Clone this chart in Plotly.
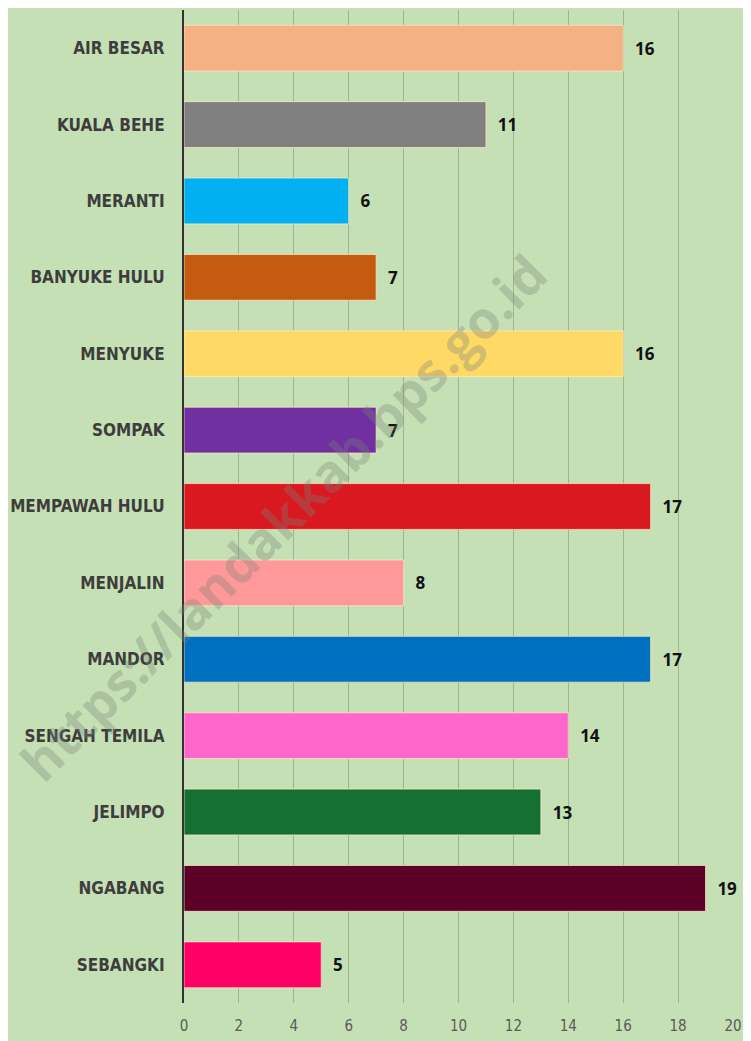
import plotly.graph_objects as go

# top to bottom as in the picture
kecamatan = ["AIR BESAR", "KUALA BEHE", "MERANTI", "BANYUKE HULU", "MENYUKE", "SOMPAK",
             "MEMPAWAH HULU", "MENJALIN", "MANDOR", "SENGAH TEMILA", "JELIMPO",
             "NGABANG", "SEBANGKI"]
jumlah = [16, 11, 6, 7, 16, 7, 17, 8, 17, 14, 13, 19, 5]
warna = ["#F4B183", "#808080", "#00B0F0", "#C55A11", "#FFD966", "#7030A0",
         "#D9191F", "#FF9999", "#0070C0", "#FF66CC", "#157133", "#5C0028", "#FF0066"]
x_ticks = list(range(0, 21, 2))

BG = "#C5E0B4"
LABEL_FONT = "DejaVu Sans Condensed, sans-serif"

fig = go.Figure(go.Bar(
    x=jumlah, y=kecamatan, orientation="h",
    marker=dict(color=warna, line=dict(color="rgba(255,235,200,0.7)", width=1)),
    text=jumlah, texttemplate="\u00a0\u00a0%{text}", textposition="outside",
    cliponaxis=False, constraintext="none",
    textfont=dict(family="Open Sans", size=17, color="#111111", weight="bold"),
))

# the page adds an 8px body margin, so the figure is a bit smaller than the window
fig.update_layout(
    width=743, height=1033,
    paper_bgcolor=BG, plot_bgcolor=BG,
    margin=dict(l=176, r=18, t=2, b=38),
    bargap=0.4,
    showlegend=False,
    xaxis=dict(range=[0, 20], tickvals=x_ticks, showgrid=True,
               gridcolor="rgba(110,130,100,0.45)", gridwidth=1,
               zeroline=False, showline=False, automargin=False,
               ticks="outside", ticklen=0, ticklabelstandoff=9,
               tickfont=dict(family=LABEL_FONT, size=15, color="#5a5a5a")),
    yaxis=dict(categoryorder="array", categoryarray=kecamatan[::-1],
               showline=True, linecolor="#333333", linewidth=2,
               showgrid=False, ticks="", ticklabelstandoff=14, automargin=False,
               tickfont=dict(family=LABEL_FONT, size=17, color="#3d3d3d",
                             weight="bold")),
)

# watermark
fig.add_annotation(
    text="https://landakkab.bps.go.id", xref="paper", yref="paper",
    x=0.18, y=0.49, xanchor="center", yanchor="middle",
    showarrow=False, textangle=-45,
    font=dict(family="Open Sans", size=52, color="rgba(120,130,120,0.33)", weight="bold"),
)

fig.write_html("out.html")
